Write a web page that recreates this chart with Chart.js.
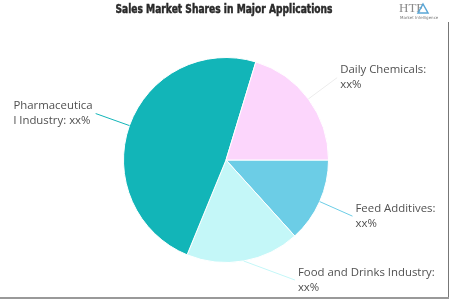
<!DOCTYPE html>
<html>
<head>
<meta charset="utf-8">
<script src="https://cdn.jsdelivr.net/npm/chart.js@4.4.0/dist/chart.umd.min.js"></script>
<style>
  html, body { margin: 0; padding: 0; background: #fff; }
  #pieChart { display: block; }
</style>
</head>
<body>
<canvas id="pieChart" width="450" height="300"></canvas>
<script>
// Chart data
const categories = ['Feed Additives', 'Food and Drinks Industry', 'Pharmaceutical Industry', 'Daily Chemicals'];
const shares = [13.3, 17.9, 48.5, 20.3];
const shareLabels = ['xx%', 'xx%', 'xx%', 'xx%'];
const sliceColors = ['#6ccde6', '#c4f7f8', '#12b5b8', '#fcd6fc'];
const lineColors = ['#6ccde6', '#c4f7f8', '#12b5b8', '#ececec'];

// wrap text into lines that fit maxW, breaking long words by character
function wrapText(ctx, text, maxW) {
    const words = text.split(' ');
    const lines = [];
    let cur = '';
    words.forEach(w => {
        const test = cur ? cur + ' ' + w : w;
        if (ctx.measureText(test).width <= maxW) {
            cur = test;
            return;
        }
        if (cur) lines.push(cur);
        cur = w;
        while (ctx.measureText(cur).width > maxW) {
            let i = cur.length;
            while (i > 1 && ctx.measureText(cur.slice(0, i)).width > maxW) i--;
            lines.push(cur.slice(0, i));
            cur = cur.slice(i);
        }
    });
    if (cur) lines.push(cur);
    return lines;
}

// outside labels with connector lines, title, logo and frame
const decorPlugin = {
    id: 'decor',
    afterDatasetsDraw(chart) {
        const ctx = chart.ctx;
        const meta = chart.getDatasetMeta(0);
        ctx.save();
        ctx.font = '11.4px "Open Sans", "Noto Sans", sans-serif';
        ctx.textBaseline = 'middle';
        meta.data.forEach((arc, i) => {
            const p = arc.getProps(['x', 'y', 'startAngle', 'endAngle', 'outerRadius'], true);
            const mid = (p.startAngle + p.endAngle) / 2;
            const ex = p.x + Math.cos(mid) * p.outerRadius;
            const ey = p.y + Math.sin(mid) * p.outerRadius;
            const R = p.outerRadius * 1.35;
            let ax = p.x + Math.cos(mid) * R;
            let ay = p.y + Math.sin(mid) * R;
            const right = Math.cos(mid) >= 0;
            if (ay > 280) {
                ay = 280;
                const dy = ay - p.y;
                ax = p.x + (right ? 1 : -1) * Math.sqrt(Math.max(R * R - dy * dy, 0));
            }
            ctx.strokeStyle = lineColors[i];
            ctx.lineWidth = 1;
            ctx.beginPath();
            ctx.moveTo(ex, ey);
            ctx.lineTo(ax, ay);
            ctx.stroke();

            const text = categories[i] + ': ' + shareLabels[i];
            const maxW = right ? 442 - (ax + 3) : ax - 3 - 12;
            const lines = wrapText(ctx, text, maxW);
            const blockW = Math.max(...lines.map(l => ctx.measureText(l).width));
            const x0 = right ? ax + 3 : ax - 3 - blockW;
            const lh = 15;
            ctx.fillStyle = '#505050';
            ctx.textAlign = 'left';
            lines.forEach((l, k) => {
                ctx.fillText(l, x0, ay - (lines.length - 1) * lh / 2 + k * lh);
            });
        });

        // title, squeezed to a condensed heavy look
        ctx.save();
        ctx.fillStyle = '#2a2a2a';
        ctx.strokeStyle = '#2a2a2a';
        ctx.lineWidth = 0.5;
        ctx.textAlign = 'center';
        ctx.font = 'bold 12px "DejaVu Sans", sans-serif';
        const tw = ctx.measureText('Sales Market Shares in Major Applications').width;
        ctx.translate(224, 10);
        ctx.scale(217 / tw, 1);
        ctx.fillText('Sales Market Shares in Major Applications', 0, 0);
        ctx.strokeText('Sales Market Shares in Major Applications', 0, 0);
        ctx.restore();

        // logo
        ctx.textAlign = 'left';
        ctx.fillStyle = '#8a8a8a';
        ctx.font = '13px "Liberation Serif", serif';
        ctx.fillText('HTF', 399, 9);
        ctx.strokeStyle = '#5aa6d6';
        ctx.lineWidth = 1.5;
        ctx.beginPath();
        ctx.moveTo(423, 4);
        ctx.lineTo(428, 13);
        ctx.lineTo(418, 13);
        ctx.closePath();
        ctx.stroke();
        ctx.font = '4px "DejaVu Sans", sans-serif';
        ctx.fillStyle = '#777';
        ctx.fillText('Market Intelligence', 400, 18);

        // frame
        ctx.strokeStyle = '#777';
        ctx.lineWidth = 1;
        ctx.beginPath();
        ctx.moveTo(448.5, 22);
        ctx.lineTo(448.5, 299);
        ctx.stroke();
        ctx.strokeStyle = '#999';
        ctx.lineWidth = 2;
        ctx.beginPath();
        ctx.moveTo(0, 298);
        ctx.lineTo(449, 298);
        ctx.stroke();
        ctx.restore();
    }
};

const ctx = document.getElementById('pieChart').getContext('2d');
new Chart(ctx, {
    type: 'pie',
    data: {
        labels: categories,
        datasets: [{
            data: shares,
            backgroundColor: sliceColors,
            borderColor: '#ffffff',
            borderWidth: 1
        }]
    },
    options: {
        responsive: false,
        animation: false,
        rotation: 90,
        layout: { padding: { top: 57, bottom: 37, left: 123, right: 121 } },
        plugins: {
            legend: { display: false },
            tooltip: { enabled: false },
            title: { display: false }
        }
    },
    plugins: [decorPlugin]
});
</script>
</body>
</html>
